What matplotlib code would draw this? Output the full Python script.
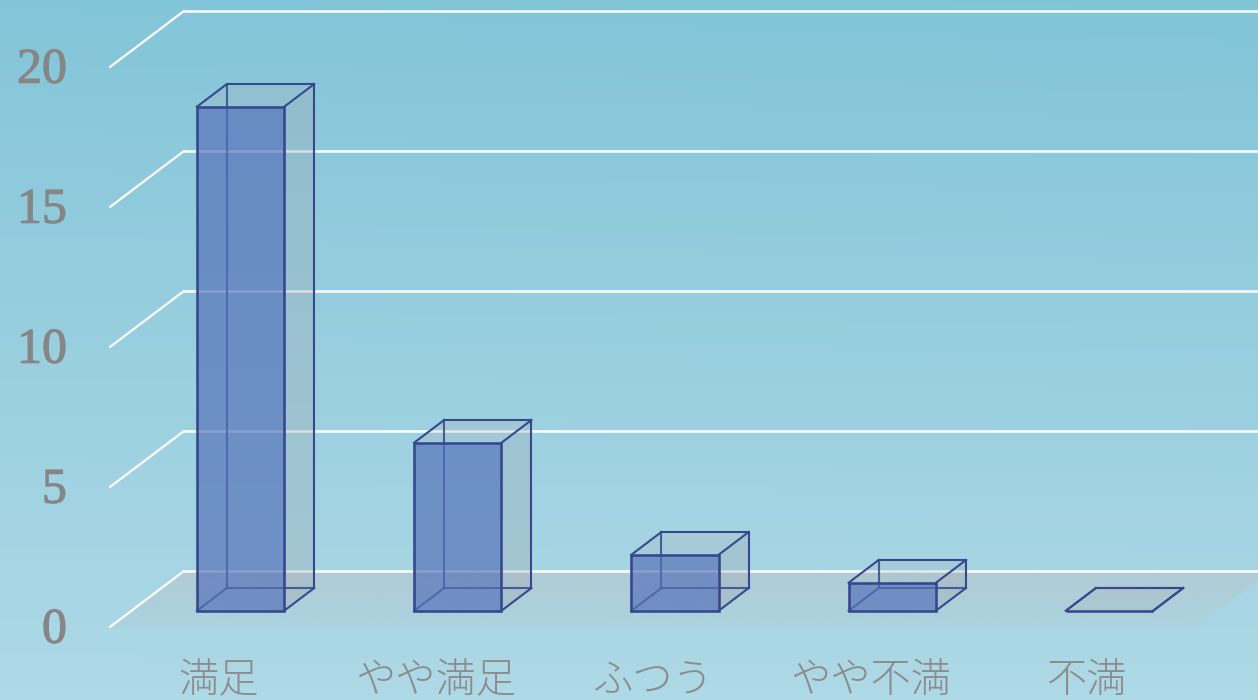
"""Pseudo-3D satisfaction bar chart, drawn on a plain 2D axes"""

import matplotlib.pyplot as plt
import matplotlib.patheffects as pe
import numpy as np
from matplotlib.patches import Polygon
from matplotlib.transforms import ScaledTranslation

plt.rcParams["font.family"] = ["Noto Sans CJK JP", "DejaVu Sans"]

categories = ["満足", "やや満足", "ふつう", "やや不満", "不満"]
values = [18, 6, 2, 1, 0]
y_ticks = [0, 5, 10, 15, 20]

# Full depth of the floor, in data units
DEPTH_X = 0.3406
DEPTH_Y = 2.0
BAR_WIDTH = 0.402
BAR_FRONT = 0.29
BAR_BACK = 0.696
BAR_SHIFT = 0.002

LINE = "#36498f"
GREY = "#868686"


def project(x, y, depth):
    return x + depth * DEPTH_X, y + depth * DEPTH_Y


def draw_bar(ax, pos, value):
    left = pos + BAR_SHIFT - BAR_WIDTH / 2
    right = pos + BAR_SHIFT + BAR_WIDTH / 2
    flb = project(left, 0, BAR_FRONT)
    frb = project(right, 0, BAR_FRONT)
    flt = project(left, value, BAR_FRONT)
    frt = project(right, value, BAR_FRONT)
    blb = project(left, 0, BAR_BACK)
    brb = project(right, 0, BAR_BACK)
    blt = project(left, value, BAR_BACK)
    brt = project(right, value, BAR_BACK)

    # faces
    ax.add_patch(Polygon([frb, brb, brt, frt], fc="#a0adb8", alpha=0.38, lw=0, zorder=3))
    ax.add_patch(Polygon([flt, frt, brt, blt], fc="#a8b4bc", alpha=0.28, lw=0, zorder=3))
    ax.add_patch(Polygon([flb, frb, frt, flt], fc="#5570b8", alpha=0.68, lw=0, zorder=4))

    # back edges first, they show through the front face
    for a, b in [(blb, blt), (blb, brb), (flb, blb)]:
        ax.plot(*zip(a, b), color=LINE, lw=1.5, alpha=0.85, zorder=3.5)
    for a, b in [(brb, brt), (blt, brt), (flt, blt), (frt, brt), (frb, brb)]:
        ax.plot(*zip(a, b), color=LINE, lw=1.5, zorder=5)
    ax.add_patch(Polygon([flb, frb, frt, flt], fc="none", ec=LINE, lw=1.9, zorder=5))


fig = plt.figure(figsize=(12.58, 7), dpi=100)
ax = fig.add_axes([0, 0, 1, 1])

x_range = (-0.5, 4.5)
ax.set_xlim(-218.6 / 217.25, (1258 - 218.6) / 217.25)
ax.set_ylim(-73 / 28, 627 / 28)

# background gradient, a bit darker towards the top right
rows = np.linspace(0, 1, 200)[:, None]
cols = np.linspace(0, 1, 200)[None, :]
shade = np.clip(rows * 0.95 + 0.06 - 0.05 * cols * (1 - rows), 0, 1)[..., None]
top = np.array([129, 196, 216]) / 255
bottom = np.array([174, 217, 230]) / 255
ax.imshow(
    top + (bottom - top) * shade,
    extent=[*ax.get_xlim(), *ax.get_ylim()],
    origin="upper",
    aspect="auto",
    zorder=0,
)

# floor, fading out towards its front edge
floor = [
    project(x_range[0], 0, 0),
    project(x_range[1], 0, 0),
    project(x_range[1], 0, 1),
    project(x_range[0], 0, 1),
]
floor_patch = Polygon(floor, fc="none", lw=0, zorder=1)
ax.add_patch(floor_patch)
fade = np.zeros((100, 1, 4))
fade[..., :3] = np.array([176, 205, 215]) / 255
fade[..., 3] = np.clip(np.linspace(1.25, 0.3, 100), 0, 1)[:, None]
floor_image = ax.imshow(
    fade,
    extent=[*ax.get_xlim(), 0, DEPTH_Y],
    origin="upper",
    aspect="auto",
    zorder=1,
)
floor_image.set_clip_path(floor_patch)

# gridlines with their slanted wall part
for tick in y_ticks:
    ax.plot(
        *zip(project(x_range[0], tick, 0), project(x_range[0], tick, 1)),
        color="white", lw=1.6, zorder=2, solid_capstyle="round",
    )
    ax.plot(
        *zip(project(x_range[0], tick, 1), project(x_range[1], tick, 1)),
        color="white", lw=1.8, zorder=2,
    )

for i, value in enumerate(values):
    draw_bar(ax, i, value)

ax.set_xticks(range(len(categories)))
ax.set_xticklabels(categories, fontsize=29, color="#8c8c8c", fontweight="light")
ax.set_yticks(y_ticks)
ax.set_yticklabels(
    [str(t) for t in y_ticks], fontsize=36, color=GREY, family=["Liberation Serif"]
)
ax.tick_params(axis="x", length=0, pad=-28.6)
ax.tick_params(axis="y", length=0, pad=-48.2)
# digits sit about 2 px too low on the tick position
nudge = ScaledTranslation(0, 2 / 100, fig.dpi_scale_trans)
for label in ax.get_yticklabels():
    label.set_path_effects([pe.withStroke(linewidth=0.8, foreground=GREY)])
    label.set_transform(label.get_transform() + nudge)
for spine in ax.spines.values():
    spine.set_visible(False)

fig.savefig("out.png", dpi=100)
